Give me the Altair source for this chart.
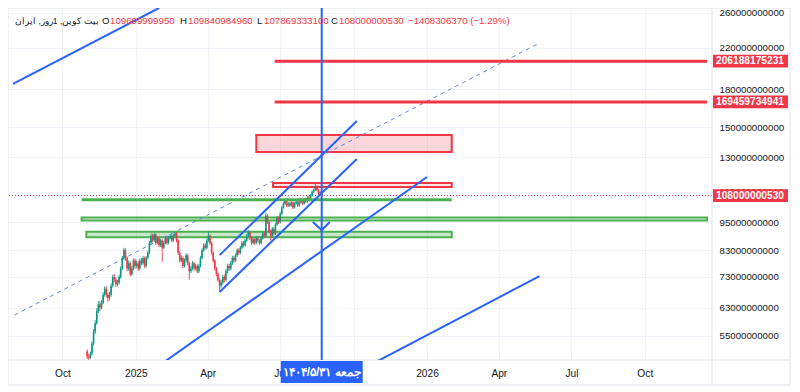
import altair as alt
import pandas as pd
import numpy as np

# ---------------- data (prices in billions) ----------------
CANDLE_START = "2024-11-01"
CANDLE_STEP_DAYS = 2
FIRST_OPEN = 51.0
CLOSE = [
    49.8, 49.5, 50.5, 53, 56, 58.5, 62, 64, 63, 64.5,
    67, 69, 67, 66, 67, 70, 73, 72, 70.5, 71,
    73, 76, 80, 83, 80, 76, 78, 74, 76, 79,
    77, 78, 76, 79, 78, 80, 77, 80, 82, 86,
    89, 87, 89.5, 86, 88, 85, 87, 84, 86, 88,
    86, 88, 89, 87, 89, 90, 87, 82, 79, 80,
    77, 79, 81, 78, 75, 76, 78, 76, 77, 75,
    77, 80, 83, 85, 84, 87, 89, 86, 82, 79,
    76, 74, 72, 70, 71, 73, 72, 75, 77, 76,
    78, 80, 79, 81, 83, 82, 84, 86, 85, 87,
    89, 90.5, 88, 86, 87.5, 86, 88, 87, 86, 88,
    90, 89, 98, 95, 91, 89, 92, 90, 94, 97,
    95, 99, 102, 104, 105.5, 103, 104, 103, 104.5, 102,
    104, 105, 103, 104.5, 106, 104, 106, 105, 107, 106,
    108, 110, 111, 113, 111, 109, 109.7, 108.0000005,
]
HIGH = [
    51.5, 50.5, 51, 53.6, 56.8, 59.3, 62.8, 65, 65, 65.3,
    67.8, 69.8, 69.8, 67.6, 68, 70.8, 73.8, 74, 72.8, 72,
    73.8, 76.8, 80.8, 84, 83.8, 80.6, 79, 78.6, 77, 79.8,
    79.8, 79, 78.8, 79.8, 80, 80.8, 80.6, 80.8, 82.8, 86.8,
    90, 89.8, 90.2, 90, 88.8, 88.6, 87.8, 87.6, 86.8, 88.8,
    88.6, 88.8, 89.8, 89.6, 89.8, 90.8, 90.6, 87.6, 82.6, 81,
    80.6, 79.8, 81.8, 81.6, 78.6, 77, 78.8, 78.6, 77.8, 77.6,
    77.8, 80.8, 83.8, 85.8, 86, 87.8, 90.6, 89.6, 86.6, 82.6,
    79.6, 76.6, 74.6, 72.6, 72, 73.8, 73.8, 75.8, 77.8, 77.8,
    78.8, 80.8, 80.8, 81.8, 83.8, 83.8, 84.8, 86.8, 86.8, 87.8,
    89.8, 91.5, 91, 88.6, 88.2, 88, 88.8, 88.8, 87.6, 88.8,
    90.8, 90.8, 99.5, 98.8, 95.6, 91.6, 92.8, 92.8, 94.8, 97.8,
    97.8, 99.8, 102.8, 104.8, 106.3, 106, 104.8, 104.8, 105.3, 105,
    104.8, 105.8, 105.6, 105.3, 106.8, 106.6, 106.8, 106.8, 107.8, 107.8,
    108.8, 110.8, 111.8, 114.3, 113.6, 111.6, 110.5, 109.84,
]
LOW = [
    49.2, 48.8, 49.2, 50, 52.5, 55.5, 58, 61.4, 62, 62.5,
    64, 66.4, 66.2, 64.8, 65.2, 66.4, 69.4, 71.2, 69.6, 69.8,
    70.4, 72.4, 75.4, 79.2, 79, 75, 75.2, 73.2, 73.4, 75.4,
    76, 76.3, 75.2, 75.4, 77.2, 77.4, 76.2, 76.4, 79.4, 81.4,
    85.4, 86.2, 86.4, 85.2, 85.4, 84.2, 84.4, 78.5, 83.4, 85.4,
    85.2, 85.4, 87.4, 86.2, 86.4, 88.4, 86.2, 81.2, 78.2, 78.4,
    76.2, 76.4, 78.4, 77.2, 72, 74.3, 75.4, 75.2, 75.4, 74.3,
    74.4, 76.4, 79.4, 82.4, 83.2, 83.4, 86.4, 85.2, 81.2, 78.2,
    75.2, 73.2, 71.2, 68, 69.3, 70.4, 71.2, 71.4, 74.4, 75.2,
    75.4, 77.4, 78.2, 78.4, 80.4, 81.2, 81.4, 83.4, 84.2, 84.4,
    86.4, 88.4, 87.2, 85.2, 85.4, 85.2, 85.4, 86.2, 85.2, 85.4,
    87.4, 88.2, 88.4, 94.2, 90.2, 87, 88.4, 89.2, 89.4, 93.4,
    94.2, 94.4, 98.4, 101.4, 103.4, 102.2, 102.2, 102.2, 102.4, 101.2,
    101.4, 103.4, 102.2, 102.4, 103.8, 103.2, 103.4, 104.2, 104.4, 105.2,
    105.4, 107.4, 109.4, 110.4, 110.2, 108.2, 108.4, 107.87,
]

# trend lines (two anchors each; "ar" is the down arrow head)
SOLID_ID = ["tl", "tl", "c1", "c1", "c2", "c2", "c3", "c3", "c4", "c4", "ar", "ar", "ar"]
SOLID_DATE = ["2024-07-31", "2025-01-30", "2025-04-16", "2025-10-05", "2025-04-16", "2025-10-05",
              "2025-02-07", "2026-01-01", "2025-10-31", "2026-05-22",
              "2025-08-11", "2025-08-22", "2025-09-01"]
SOLID_VALUE = [184.8, 266.3, 81.1, 154.6, 67.9, 128.8, 48.7, 118.1, 48.7, 73.3, 95.1, 91.4, 95.1]
DASH_DATE = ["2024-08-02", "2026-05-22"]
DASH_VALUE = [60.8, 225.0]

# horizontal levels
HL_START = ["2025-06-24", "2025-06-24", "2024-10-25"]
HL_END = ["2026-12-18", "2026-12-18", "2026-02-01"]
HL_VALUE = [206.188175231, 169.459734941, 105.8]
HL_COLOR = ["#f23645", "#f23645", "#4caf50"]

# zones
ZONE_START = ["2025-06-01", "2025-06-22", "2024-10-25", "2024-10-31"]
ZONE_END = ["2026-02-01", "2026-02-01", "2026-12-18", "2026-02-01"]
ZONE_LO = [133.2, 112.5, 95.8, 88.4]
ZONE_HI = [144.6, 114.7, 97.2, 90.7]
ZONE_STROKE = ["#f23645", "#f23645", "#4caf50", "#4caf50"]
ZONE_FILL = ["#f23645", "#f23645", "#4caf50", "#4caf50"]
ZONE_OPACITY = [0.2, 0.12, 0.2, 0.3]

CURSOR_DATE = "2025-08-22"
CURSOR_LABEL = "جمعه ۱۴۰۴/۵/۳۱"
LAST_CLOSE = 108.00000053

PRICE_LABEL_VALUES = [206.188175231, 169.459734941, 108.00000053]
PRICE_LABEL_TEXT = ["206188175231", "169459734941", "108000000530"]

Y_TICKS = [55, 63, 73, 83, 95, 110, 130, 150, 180, 220, 260]
X_TICKS = [(2024, 10), (2025, 1), (2025, 4), (2025, 7), (2025, 10), (2026, 1), (2026, 4), (2026, 7), (2026, 10)]

HEADER = [("بیت کوین, 1روز, ایران", "#131722"), ("O", "#131722"), ("109699999950", "#f23645"),
          ("H", "#131722"), ("109840984960", "#f23645"), ("L", "#131722"), ("107869333100", "#f23645"),
          ("C", "#131722"), ("108000000530", "#f23645"), ("−1408306370 (−1.29%)", "#f23645")]
HEADER_X = [7, 94, 102, 172, 180, 249, 256, 323, 331, 400]

# ---------------- build ----------------
UP, DOWN, BLUE = "#089981", "#f23645", "#2962ff"
FONT = "Liberation Sans"
FS = 9.7

dates = pd.date_range(CANDLE_START, periods=len(CLOSE), freq=f"{CANDLE_STEP_DAYS}D")
opens = [FIRST_OPEN] + CLOSE[:-1]
candles = pd.DataFrame({"date": dates.strftime("%Y-%m-%d"), "open": opens,
                        "high": HIGH, "low": LOW, "close": CLOSE})
candles["dir"] = np.where(candles["close"] >= candles["open"], "up", "down")

xs = alt.Scale(type="utc", domain=[alt.DateTime(year=2024, month=7, date=31, utc=True),
                                   alt.DateTime(year=2026, month=12, date=18, utc=True)])
ys = alt.Scale(type="log", domain=[48.96, 266.3], nice=False)

xaxis = alt.Axis(values=[alt.DateTime(year=y, month=m, date=1, utc=True) for y, m in X_TICKS],
                 labelExpr="utcFormat(datum.value, '%m') == '01' ? utcFormat(datum.value, '%Y') : utcFormat(datum.value, '%b')",
                 tickSize=0, domain=False, grid=True, gridColor="#f0f3fa", labelPadding=8,
                 labelFont=FONT, labelFontSize=FS + 0.5, labelColor="#131722", title=None)
yaxis = alt.Axis(orient="right", values=Y_TICKS, labelExpr="format(datum.value * 1000000000, 'd')",
                 tickSize=0, domain=False, grid=True, gridColor="#f0f3fa", labelPadding=7,
                 labelFont=FONT, labelFontSize=FS, labelColor="#131722", title=None)


def X(f):
    return alt.X(f, type="temporal", scale=xs, axis=xaxis, title=None)


def Y(f):
    return alt.Y(f, type="quantitative", scale=ys, axis=yaxis, title=None)


color = alt.Color("dir:N", scale=alt.Scale(domain=["up", "down"], range=[UP, DOWN]), legend=None)

wicks = alt.Chart(candles).mark_rule(strokeWidth=0.9, clip=True).encode(
    x=X("date"), y=Y("low"), y2="high", color=color)
bodies = alt.Chart(candles).mark_bar(width=1.6, clip=True).encode(
    x=X("date"), y=Y("open"), y2="close", color=color)

zones = pd.DataFrame({"s": ZONE_START, "e": ZONE_END, "lo": ZONE_LO, "hi": ZONE_HI,
                      "st": ZONE_STROKE, "fi": ZONE_FILL, "op": ZONE_OPACITY})
zone_layer = alt.Chart(zones).mark_rect(strokeWidth=2, clip=True).encode(
    x=X("s"), x2="e", y=Y("lo"), y2="hi",
    fill=alt.Fill("fi:N", scale=None), stroke=alt.Stroke("st:N", scale=None),
    fillOpacity=alt.FillOpacity("op:Q", scale=None))

hl = pd.DataFrame({"s": HL_START, "e": HL_END, "v": HL_VALUE, "c": HL_COLOR})
hl_layer = alt.Chart(hl).mark_rule(strokeWidth=3, clip=True).encode(
    x=X("s"), x2="e", y=Y("v"), color=alt.Color("c:N", scale=None))

solid = pd.DataFrame({"id": SOLID_ID, "d": SOLID_DATE, "v": SOLID_VALUE})
solid_layer = alt.Chart(solid).mark_line(strokeWidth=2, color=BLUE, clip=True).encode(
    x=X("d"), y=Y("v"), detail="id:N")
dash = pd.DataFrame({"d": DASH_DATE, "v": DASH_VALUE})
dash_layer = alt.Chart(dash).mark_line(strokeWidth=1, strokeDash=[4, 4], color="#5f86f5", clip=True).encode(
    x=X("d"), y=Y("v"))

close_layer = alt.Chart(pd.DataFrame({"v": [LAST_CLOSE]})).mark_rule(
    strokeWidth=1, strokeDash=[1, 2], color=DOWN).encode(y=Y("v"))

cursor = pd.DataFrame({"d": [CURSOR_DATE], "t": [CURSOR_LABEL]})
cursor_line = alt.Chart(cursor).mark_rule(strokeWidth=2, color=BLUE).encode(x=X("d"))
cursor_box = alt.Chart(cursor).mark_point(
    shape="M-1,-0.27L1,-0.27L1,0.27L-1,0.27Z", size=82 * 82, filled=True, opacity=1,
    color=BLUE, strokeWidth=0).encode(x=X("d"), y=alt.value(364))
cursor_text = alt.Chart(cursor).mark_text(color="white", fontSize=12, fontWeight="bold",
                                          baseline="middle").encode(
    x=X("d"), y=alt.value(364), text="t:N")

plabels = pd.DataFrame({"v": PRICE_LABEL_VALUES, "t": PRICE_LABEL_TEXT})
plabel_box = alt.Chart(plabels).transform_calculate(
    lo="datum.v / 1.031", hi="datum.v * 1.031").mark_rect(color=DOWN).encode(
    x=alt.value(705), x2=alt.value(780), y=Y("lo"), y2="hi")
plabel_text = alt.Chart(plabels).mark_text(color="white", fontSize=FS + 0.5, fontWeight="bold",
                                           font=FONT, baseline="middle", align="center").encode(
    x=alt.value(742), y=Y("v"), text="t:N")

one = pd.DataFrame({"k": [0]})
header_layers = []
for i, ((txt, col), hx) in enumerate(zip(HEADER, HEADER_X)):
    header_layers.append(alt.Chart(one).mark_text(
        text=txt, color=col, fontSize=8.6 if i == 0 else FS, font=FONT, align="left",
        baseline="middle").encode(x=alt.value(hx), y=alt.value(13)))

frame_color = "#e0e3eb"
frame = [
    alt.Chart(one).mark_rule(color=frame_color).encode(x=alt.value(0), x2=alt.value(782), y=alt.value(0)),
    alt.Chart(one).mark_rule(color=frame_color).encode(x=alt.value(0), x2=alt.value(782), y=alt.value(352)),
    alt.Chart(one).mark_rule(color=frame_color).encode(x=alt.value(0), x2=alt.value(782), y=alt.value(377)),
    alt.Chart(one).mark_rule(color=frame_color).encode(x=alt.value(0), y=alt.value(0), y2=alt.value(377)),
    alt.Chart(one).mark_rule(color=frame_color).encode(x=alt.value(704), y=alt.value(0), y2=alt.value(377)),
    alt.Chart(one).mark_rule(color=frame_color).encode(x=alt.value(782), y=alt.value(0), y2=alt.value(377)),
]

chart = alt.layer(
    zone_layer, *frame, dash_layer, close_layer, wicks, bodies, hl_layer, solid_layer,
    cursor_line, cursor_box, cursor_text, plabel_box, plabel_text, *header_layers
).properties(
    width=704, height=352,
    autosize=alt.AutoSizeParams(type="none"),
    padding={"left": 0, "top": 0, "right": 80, "bottom": 32},
    background="white",
).configure_view(stroke=None)

chart.save("out.html", embed_options={"renderer": "svg", "actions": False})
